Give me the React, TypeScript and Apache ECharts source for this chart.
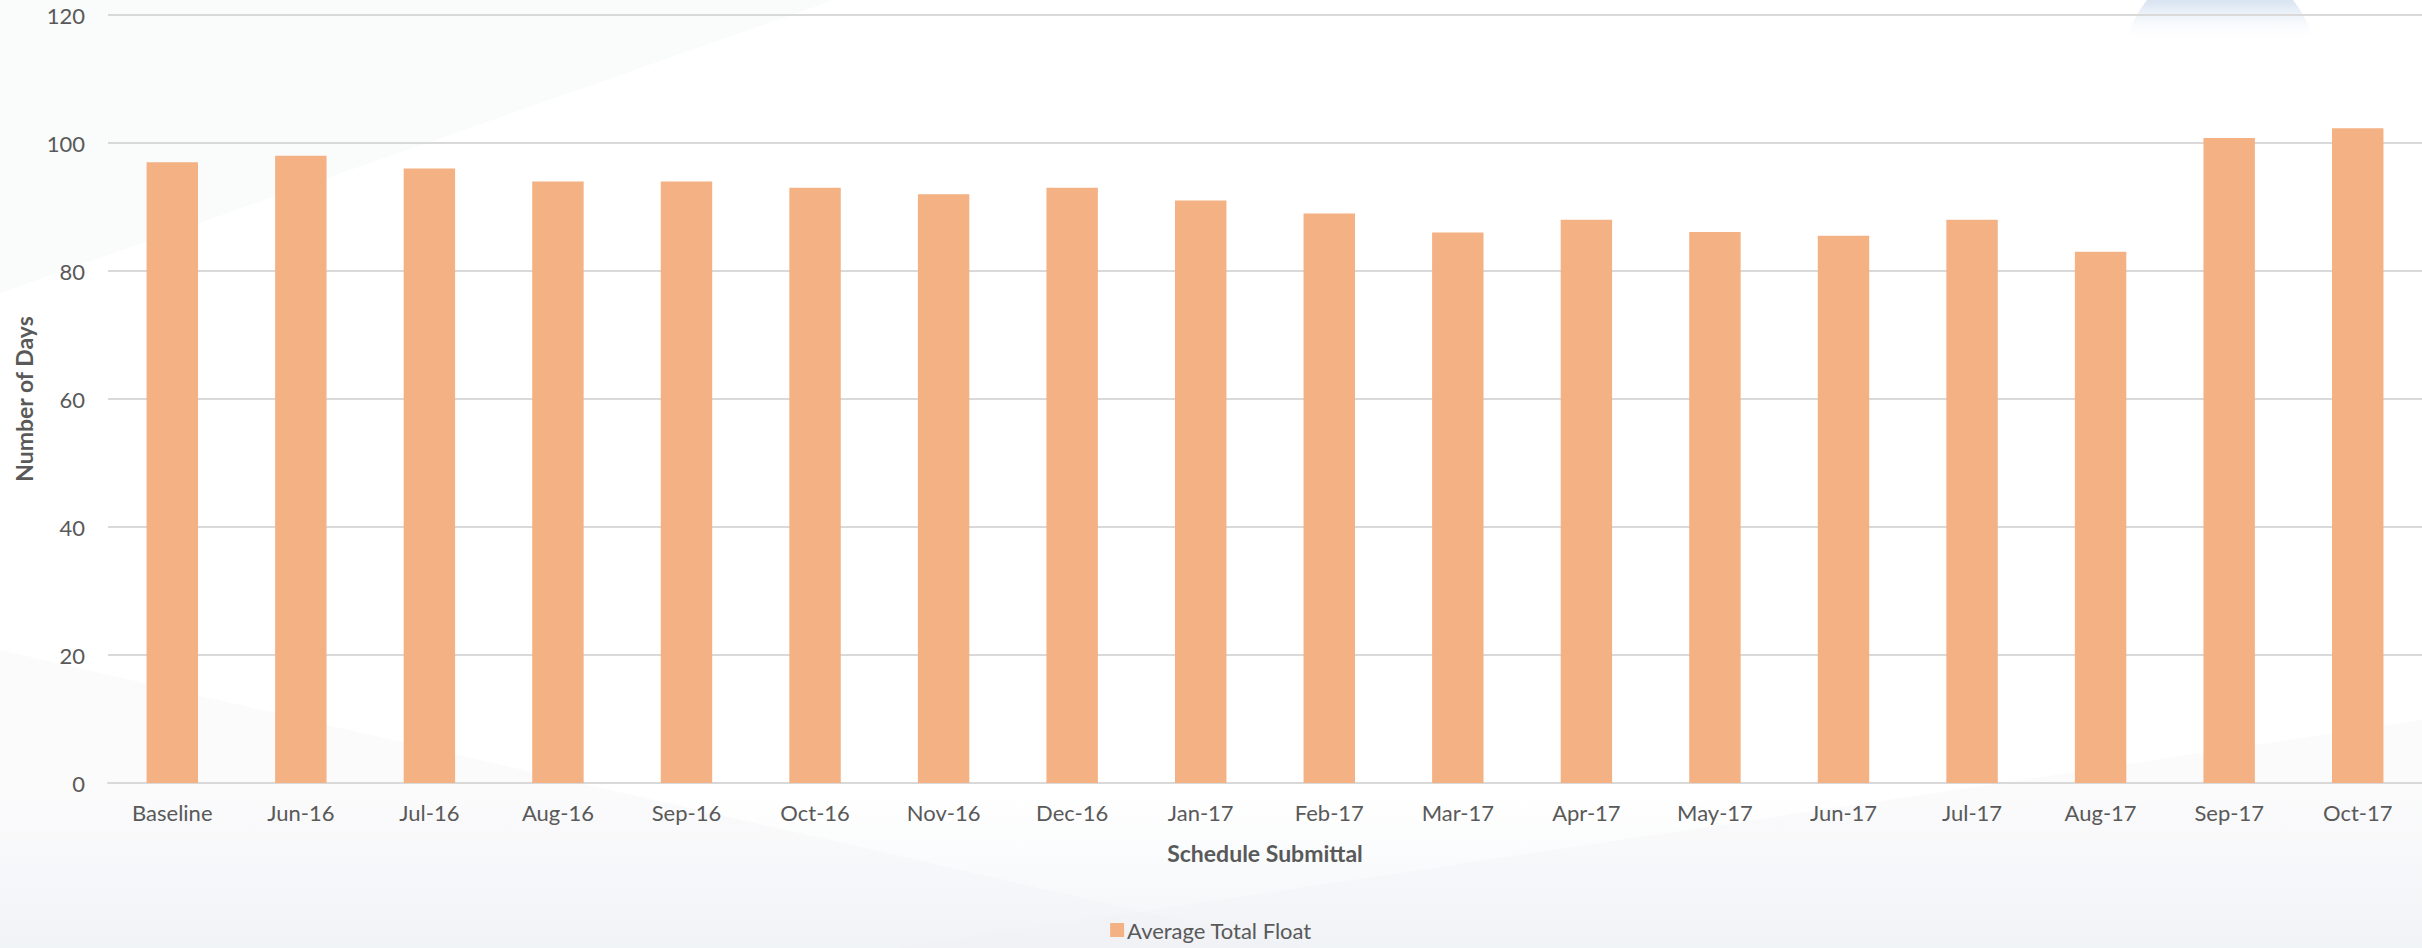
import React, { useEffect, useRef } from "react";
import * as echarts from "echarts";

const categories = [
  "Baseline", "Jun-16", "Jul-16", "Aug-16", "Sep-16", "Oct-16", "Nov-16", "Dec-16",
  "Jan-17", "Feb-17", "Mar-17", "Apr-17", "May-17", "Jun-17", "Jul-17", "Aug-17",
  "Sep-17", "Oct-17",
];
const averageTotalFloat = [97, 98, 96, 94, 94, 93, 92, 93, 91, 89, 86, 88, 86.1, 85.5, 88, 83, 100.8, 102.3];
const seriesName = "Average Total Float";
const xTitle = "Schedule Submittal";
const yTitle = "Number of Days";

const FONT = "Lato, 'Noto Sans', sans-serif";
const TEXT = "#595959";

export default function App() {
  const ref = useRef<HTMLDivElement>(null);
  useEffect(() => {
    if (!ref.current) return;
    const chart = echarts.init(ref.current, null, { renderer: "svg" });
    chart.setOption({
      animation: false,
      backgroundColor: "#ffffff",
      textStyle: { fontFamily: FONT },
      graphic: [
        {
          type: "polygon",
          z: -10,
          silent: true,
          shape: { points: [[0, 0], [834, 0], [0, 293]] },
          style: { fill: "rgba(240,241,242,0.3)" },
        },
        {
          type: "polygon",
          z: -10,
          silent: true,
          shape: { points: [[0, 650], [1300, 948], [0, 948]] },
          style: { fill: "rgba(238,241,244,0.25)" },
        },
        {
          type: "polygon",
          z: -10,
          silent: true,
          shape: { points: [[2422, 720], [2422, 948], [900, 948]] },
          style: { fill: "rgba(238,241,244,0.25)" },
        },
        {
          type: "rect",
          z: -11,
          silent: true,
          shape: { x: 0, y: 790, width: 2422, height: 158 },
          style: {
            fill: new echarts.graphic.LinearGradient(0, 0, 0, 1, [
              { offset: 0, color: "rgba(244,246,248,0)" },
              { offset: 1, color: "rgba(238,242,246,0.85)" },
            ]),
          },
        },
        {
          type: "circle",
          z: -9,
          silent: true,
          shape: { cx: 2220, cy: 61, r: 95 },
          style: {
            fill: new echarts.graphic.LinearGradient(0, 0, 0, 1, [
              { offset: 0, color: "#bccfe7" },
              { offset: 0.2, color: "#dde7f3" },
              { offset: 0.4, color: "rgba(255,255,255,0)" },
              { offset: 1, color: "rgba(255,255,255,0)" },
            ]),
          },
        },
      ],
      grid: { left: 108, right: 0, top: 15, bottom: 165, containLabel: false },
      legend: {
        show: true,
        bottom: 2,
        left: "center",
        icon: "rect",
        itemWidth: 14,
        itemHeight: 14,
        itemGap: 6,
        textStyle: { color: TEXT, fontSize: 22, fontFamily: FONT, padding: [0, 0, 0, -2] },
        data: [seriesName],
      },
      xAxis: {
        type: "category",
        data: categories,
        name: xTitle,
        nameLocation: "middle",
        nameGap: 58,
        nameTextStyle: { color: TEXT, fontSize: 23, fontWeight: "bold", fontFamily: FONT },
        axisLine: { show: true, lineStyle: { color: "#d9d9d9", width: 2 } },
        axisTick: { show: false },
        axisLabel: { color: TEXT, fontSize: 22, margin: 18, fontFamily: FONT, interval: 0 },
      },
      yAxis: {
        type: "value",
        min: 0,
        max: 120,
        interval: 20,
        name: yTitle,
        nameLocation: "middle",
        nameRotate: 90,
        nameGap: 72,
        nameTextStyle: { color: TEXT, fontSize: 23, fontWeight: "bold", fontFamily: FONT },
        axisLine: { show: false },
        axisTick: { show: false },
        axisLabel: { color: TEXT, fontSize: 22, margin: 23, fontFamily: FONT },
        splitLine: { show: true, lineStyle: { color: "#d9d9d9", width: 2 } },
      },
      series: [
        {
          name: seriesName,
          type: "bar",
          data: averageTotalFloat,
          barCategoryGap: "60%",
          itemStyle: { color: "#F4B183" },
        },
      ],
    });
    return () => chart.dispose();
  }, []);
  return (
    <div
      ref={ref}
      style={{ position: "fixed", left: 0, top: 0, width: 2422, height: 948 }}
    />
  );
}
